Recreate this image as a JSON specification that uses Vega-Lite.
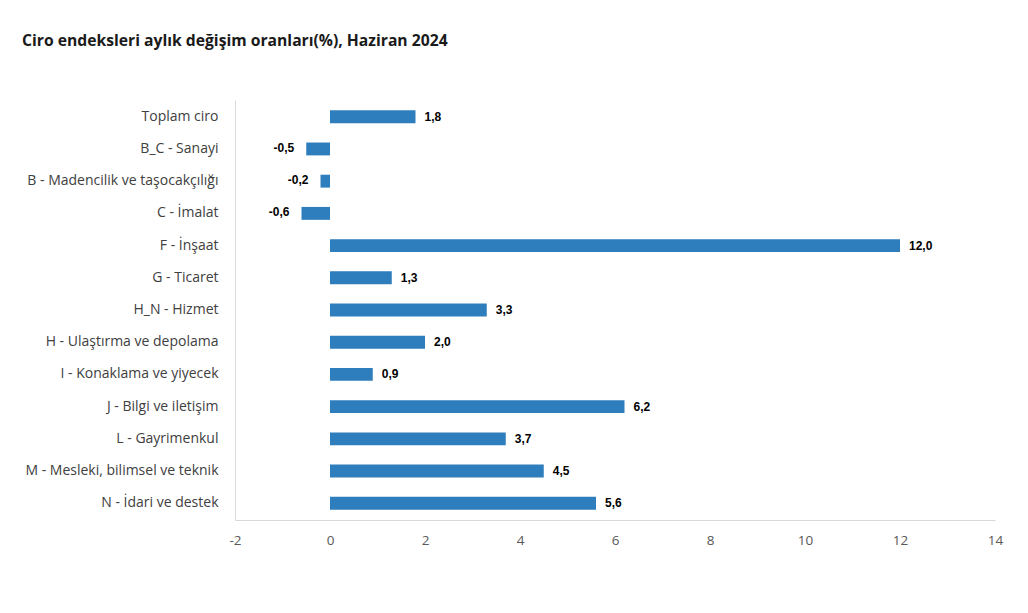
{
  "$schema": "https://vega.github.io/schema/vega-lite/v6.json",
  "width": 760,
  "height": 420,
  "autosize": {"type": "none"},
  "padding": {"left": 235, "top": 100, "right": 33, "bottom": 93},
  "background": "white",
  "config": {
    "locale": {"number": {"decimal": ",", "thousands": ".", "grouping": [3], "currency": ["", " ₺"], "minus": "-"}},
    "view": {"stroke": null},
    "font": "Open Sans"
  },
  "title": {
    "text": "Ciro endeksleri aylık değişim oranları(%), Haziran 2024",
    "anchor": "start",
    "frame": "group",
    "font": "Open Sans",
    "fontSize": 15.7,
    "fontWeight": "bold",
    "color": "#1a1a1a",
    "dx": -213,
    "offset": 50
  },
  "data": {
    "values": [
      {"sector": "Toplam ciro", "v": 1.8},
      {"sector": "B_C - Sanayi", "v": -0.5},
      {"sector": "B - Madencilik ve taşocakçılığı", "v": -0.2},
      {"sector": "C - İmalat", "v": -0.6},
      {"sector": "F - İnşaat", "v": 12.0},
      {"sector": "G - Ticaret", "v": 1.3},
      {"sector": "H_N - Hizmet", "v": 3.3},
      {"sector": "H - Ulaştırma ve depolama", "v": 2.0},
      {"sector": "I - Konaklama ve yiyecek", "v": 0.9},
      {"sector": "J - Bilgi ve iletişim", "v": 6.2},
      {"sector": "L - Gayrimenkul", "v": 3.7},
      {"sector": "M - Mesleki, bilimsel ve teknik", "v": 4.5},
      {"sector": "N - İdari ve destek", "v": 5.6}
    ]
  },
  "encoding": {
    "y": {
      "field": "sector",
      "type": "nominal",
      "sort": null,
      "title": null,
      "scale": {"paddingInner": 0.6, "paddingOuter": 0.32},
      "axis": {
        "domainColor": "#d9d9d9",
        "ticks": false,
        "labelPadding": 17,
        "labelFontSize": 14,
        "labelColor": "#404040",
        "labelFont": "Open Sans",
        "labelLimit": 300
      }
    },
    "x": {
      "field": "v",
      "type": "quantitative",
      "title": null,
      "scale": {"domain": [-2, 14], "nice": false},
      "axis": {
        "values": [-2, 0, 2, 4, 6, 8, 10, 12, 14],
        "format": "d",
        "grid": false,
        "ticks": false,
        "labelFlush": false,
        "domainColor": "#d9d9d9",
        "labelPadding": 13,
        "labelFontSize": 13.5,
        "labelColor": "#595959",
        "labelFont": "Open Sans"
      }
    }
  },
  "layer": [
    {"mark": {"type": "bar", "color": "#2e7ebd"}, "encoding": {"x2": {"datum": 0}}},
    {
      "transform": [{"filter": "datum.v >= 0"}],
      "mark": {"type": "text", "align": "left", "dx": 9, "font": "Liberation Sans", "fontWeight": "bold", "fontSize": 12, "color": "#000000", "baseline": "middle"},
      "encoding": {"text": {"field": "v", "type": "quantitative", "format": ".1f"}}
    },
    {
      "transform": [{"filter": "datum.v < 0"}],
      "mark": {"type": "text", "align": "right", "dx": -12, "dy": -1, "font": "Liberation Sans", "fontWeight": "bold", "fontSize": 12, "color": "#000000", "baseline": "middle"},
      "encoding": {"text": {"field": "v", "type": "quantitative", "format": ".1f"}}
    }
  ]
}
